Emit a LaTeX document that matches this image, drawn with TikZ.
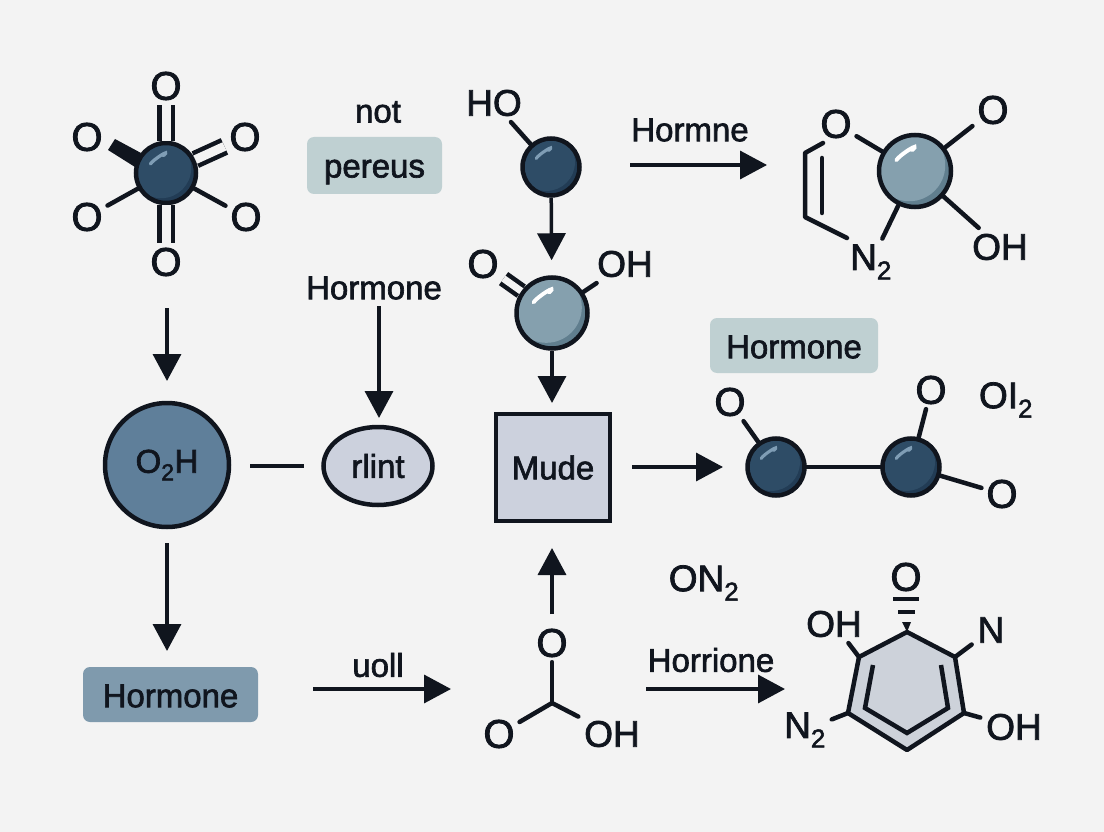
\documentclass[tikz,border=0pt]{standalone}
\usepackage{fontspec}
\setmainfont[FakeBold=2]{Liberation Sans}
\usetikzlibrary{arrows.meta,shapes.geometric}
\definecolor{ink}{HTML}{10151E}
\definecolor{paper}{HTML}{F3F3F3}
\definecolor{paleteal}{HTML}{BFD0D2}
\definecolor{paleblue}{HTML}{CCD1DD}
\definecolor{midblue}{HTML}{7F9AAD}
\definecolor{ringgrey}{HTML}{CDD2DA}
\definecolor{darkbase}{HTML}{2E4C66}
\definecolor{darkshade}{HTML}{223C55}
\definecolor{darkhigh}{HTML}{7F9DB5}
\definecolor{lightbase}{HTML}{85A0AE}
\definecolor{lightshade}{HTML}{607E8E}
\definecolor{bigfill}{HTML}{5F7F9A}
\tikzset{
    txt/.style={text=ink, font=\fontsize{33}{36}\selectfont, inner sep=3pt},
    atomlabel/.style={text=ink, font=\fontsize{37}{40}\selectfont, inner sep=3pt, outer sep=3pt},
    atomO/.style={text=ink, font=\fontsize{40}{42}\selectfont, inner sep=2pt, outer sep=3pt},
    bond/.style={draw=ink, line width=4.5pt, line cap=round},
    dbond/.style={draw=ink, line width=4.5pt, double=paper, double distance=9pt},
    pfeil/.style={draw=ink, line width=3.5pt, -{Triangle[length=27pt,width=28pt]}},
    tagbox/.style={rounded corners=7pt, fill=#1, text=ink, font=\fontsize{33}{36}\selectfont, inner sep=0pt},
    ball/.style n args={4}{circle, draw=ink, line width=4.5pt, minimum size=#1, inner sep=0pt,
        path picture={
            \fill[#3] (path picture bounding box.south west) rectangle (path picture bounding box.north east);
            \fill[#2] (path picture bounding box.center) ++({-0.08*#1},{-0.08*#1}) circle ({0.5*#1});
            \draw[#4, line width={0.055*#1}, line cap=round] (path picture bounding box.center) ++({-0.26*#1},{-0.15*#1})
                .. controls +({0.05*#1},{-0.08*#1}) and +({0.14*#1},{-0.13*#1}) .. +({0.22*#1},{-0.14*#1});
        }},
    darkball/.style={ball={#1}{darkbase}{darkshade}{darkhigh}},
    lightball/.style={ball={#1}{lightbase}{lightshade}{white}},
}
\begin{document}
\begin{tikzpicture}[x=1pt,y=-1pt]
        % Hintergrund
        \fill[paper] (0,0) rectangle (1104,832);
        \useasboundingbox (0,0) rectangle (1104,832);

        % Molekuel oben links
        \node[darkball=60] (ballA) at (166,173) {};
        \node[atomO] (aTop) at (166,86) {O};
        \node[atomO] (aUL) at (87,137) {O};
        \node[atomO] (aUR) at (245,137) {O};
        \node[atomO] (aLL) at (87,217) {O};
        \node[atomO] (aLR) at (246,217) {O};
        \node[atomO] (aBot) at (166,262) {O};
        \draw[dbond] (ballA) -- (aTop);
        \draw[dbond] (ballA) -- (aBot);
        \draw[dbond] (ballA) -- (aUR);
        \draw[bond] (ballA) -- (aLL);
        \draw[bond] (ballA) -- (aLR);
        \coordinate (wedgeA) at (108,150);
        \coordinate (wedgeB) at (115,139);
        \coordinate (wedgeC) at (141,153);
        \coordinate (wedgeD) at (135,167);
        \fill[ink] (wedgeA) -- (wedgeB) -- (wedgeC) -- (wedgeD) -- cycle;

        % Beschriftungen oben
        \node[txt] (notLabel) at (378,112) {not};
        \node[tagbox=paleteal, minimum width=135pt, minimum height=57pt] (pereusBox) at (374.5,165.5) {};
        \node[txt] (pereusLabel) at (374.5,172) {pereus};

        % Molekuel HO
        \node[darkball=57] (ballB) at (551,167) {};
        \node[atomlabel] (hoLabel) at (494,103) {HO};
        \draw[bond] (ballB) -- (hoLabel);

        % Molekuel Mitte
        \node[lightball=71] (ballC) at (552,313) {};
        \node[atomO] (cO) at (483,264) {O};
        \node[atomlabel] (cOH) at (625,264) {OH};
        \draw[dbond, double distance=7pt] (ballC) -- (cO);
        \draw[bond] (ballC) -- (cOH);
        \draw[pfeil, shorten >=15pt] (ballB) -- (ballC);

        % Molekuel oben rechts
        \node[lightball=72] (ballD) at (915,171) {};
        \node[atomO] (dO) at (836,124) {O};
        \node[atomO] (dOr) at (993,110) {O};
        \node[atomlabel] (dOH) at (1000,247) {OH};
        \node[atomlabel] (dN) at (871,262) {N\textsubscript{2}};
        \draw[bond] (ballD) -- (dO);
        \draw[bond] (ballD) -- (dOr);
        \draw[bond] (ballD) -- (dOH);
        \draw[bond] (ballD) -- (dN);
        \coordinate (chainA) at (823,143);
        \coordinate (chainB) at (805,153);
        \coordinate (chainC) at (805,217);
        \coordinate (chainD) at (847,238);
        \coordinate (chainE) at (822,158);
        \coordinate (chainF) at (822,213);
        \draw[bond, line join=round] (chainA) -- (chainB) -- (chainC) -- (chainD);
        \draw[bond] (chainE) -- (chainF);

        \node[txt] (hormneLabel) at (690,130) {Hormne};
        \coordinate (hormneStart) at (630,165);
        \coordinate (hormneEnd) at (767,165);
        \draw[pfeil] (hormneStart) -- (hormneEnd);

        % Linke Spalte
        \node[circle, draw=ink, line width=4.5pt, fill=bigfill, minimum size=124pt, txt] (bigBall) at (167,465) {O\textsubscript{2}H};
        \node[tagbox=midblue, minimum width=175pt, minimum height=55pt] (hormoneA) at (170.5,694.5) {};
        \node[txt] (hormoneALabel) at (170.5,696) {Hormone};
        \coordinate (pfeilAStart) at (167,308);
        \coordinate (pfeilAEnd) at (167,381);
        \draw[pfeil] (pfeilAStart) -- (pfeilAEnd);
        \coordinate (pfeilBStart) at (167,543);
        \coordinate (pfeilBEnd) at (167,651);
        \draw[pfeil] (pfeilBStart) -- (pfeilBEnd);

        % Mittlere Zeile
        \node[ellipse, draw=ink, line width=4.5pt, fill=paleblue, minimum width=109pt, minimum height=78pt, txt] (rlintNode) at (378,466) {rlint};
        \node[rectangle, draw=ink, line width=4pt, fill=paleblue, minimum width=114pt, minimum height=107pt, txt] (mudeNode) at (553,467.5) {Mude};
        \node[txt] (hormoneB) at (374,288) {Hormone};
        \coordinate (linkStart) at (250,466);
        \coordinate (linkEnd) at (304,466);
        \draw[draw=ink, line width=3.5pt] (linkStart) -- (linkEnd);
        \coordinate (pfeilCStart) at (379,306);
        \coordinate (pfeilCEnd) at (379,418);
        \draw[pfeil] (pfeilCStart) -- (pfeilCEnd);
        \coordinate (pfeilDEnd) at (552,403);
        \draw[pfeil] (ballC) -- (pfeilDEnd);

        % Molekuel rechts
        \node[tagbox=paleteal, minimum width=168pt, minimum height=55pt] (hormoneC) at (794,345.5) {};
        \node[txt] (hormoneCLabel) at (794,347) {Hormone};
        \node[darkball=57] (ballE) at (776,467) {};
        \node[darkball=57] (ballF) at (911,467) {};
        \node[atomO] (eO) at (730,402) {O};
        \node[atomO] (fO) at (931,390) {O};
        \node[atomO] (fOb) at (1002,494) {O};
        \node[atomlabel] (oiLabel) at (1006,400) {OI\textsubscript{2}};
        \draw[bond] (ballE) -- (ballF);
        \draw[bond] (ballE) -- (eO);
        \draw[bond] (ballF) -- (fO);
        \draw[bond] (ballF) -- (fOb);
        \coordinate (pfeilEStart) at (632,467);
        \coordinate (pfeilEEnd) at (723,467);
        \draw[pfeil] (pfeilEStart) -- (pfeilEEnd);

        % Untere Zeile
        \node[txt] (uollLabel) at (378,665) {uoll};
        \coordinate (pfeilFStart) at (313,689);
        \coordinate (pfeilFEnd) at (451,689);
        \draw[pfeil] (pfeilFStart) -- (pfeilFEnd);
        \coordinate (gCenter) at (552,703);
        \node[atomO] (gTop) at (552,643) {O};
        \node[atomO] (gLeft) at (499,734) {O};
        \node[atomlabel] (gRight) at (612,734) {OH};
        \draw[bond, line join=round] (gTop) -- (gCenter);
        \draw[bond] (gLeft) -- (gCenter) -- (gRight);
        \coordinate (pfeilGStart) at (552,614);
        \coordinate (pfeilGEnd) at (552,548);
        \draw[pfeil] (pfeilGStart) -- (pfeilGEnd);
        \node[atomlabel] (onLabel) at (704,583) {ON\textsubscript{2}};
        \node[txt] (horrioneLabel) at (711,660) {Horrione};
        \coordinate (pfeilHStart) at (646,689);
        \coordinate (pfeilHEnd) at (785,689);
        \draw[pfeil] (pfeilHStart) -- (pfeilHEnd);

        % Ring unten rechts
        \coordinate (r1) at (907,632);
        \coordinate (r2) at (955,657);
        \coordinate (r3) at (964,713);
        \coordinate (r4) at (907,750);
        \coordinate (r5) at (848,713);
        \coordinate (r6) at (859,657);
        \draw[bond, line join=round, fill=ringgrey] (r1) -- (r2) -- (r3) -- (r4) -- (r5) -- (r6) -- cycle;
        \coordinate (i1) at (873,665);
        \coordinate (i2) at (865,708);
        \coordinate (i3) at (907,733);
        \coordinate (i4) at (948,708);
        \coordinate (i5) at (941,665);
        \draw[bond, line cap=butt, line join=miter] (i1) -- (i2) -- (i3) -- (i4) -- (i5);
        \node[atomO] (rO) at (906,577) {O};
        \node[atomlabel] (rOHl) at (834,624) {OH};
        \node[atomlabel] (rN) at (991,630) {N};
        \node[atomlabel] (rOHr) at (1014,727) {OH};
        \node[atomlabel] (rNtwo) at (805,730) {N\textsubscript{2}};
        \draw[bond] (r6) -- (rOHl);
        \draw[bond] (r2) -- (rN);
        \draw[bond] (r3) -- (rOHr);
        \draw[bond] (r5) -- (rNtwo);
        % Keil gestrichelt
        \coordinate (barAl) at (893,599);
        \coordinate (barAr) at (919,599);
        \coordinate (barBl) at (898,612);
        \coordinate (barBr) at (915,612);
        \coordinate (keilA) at (902,622);
        \coordinate (keilB) at (911,622);
        \draw[bond, line cap=butt] (barAl) -- (barAr);
        \draw[bond, line cap=butt] (barBl) -- (barBr);
        \fill[ink] (keilA) -- (keilB) -- (r1) -- cycle;
\end{tikzpicture}
\end{document}
